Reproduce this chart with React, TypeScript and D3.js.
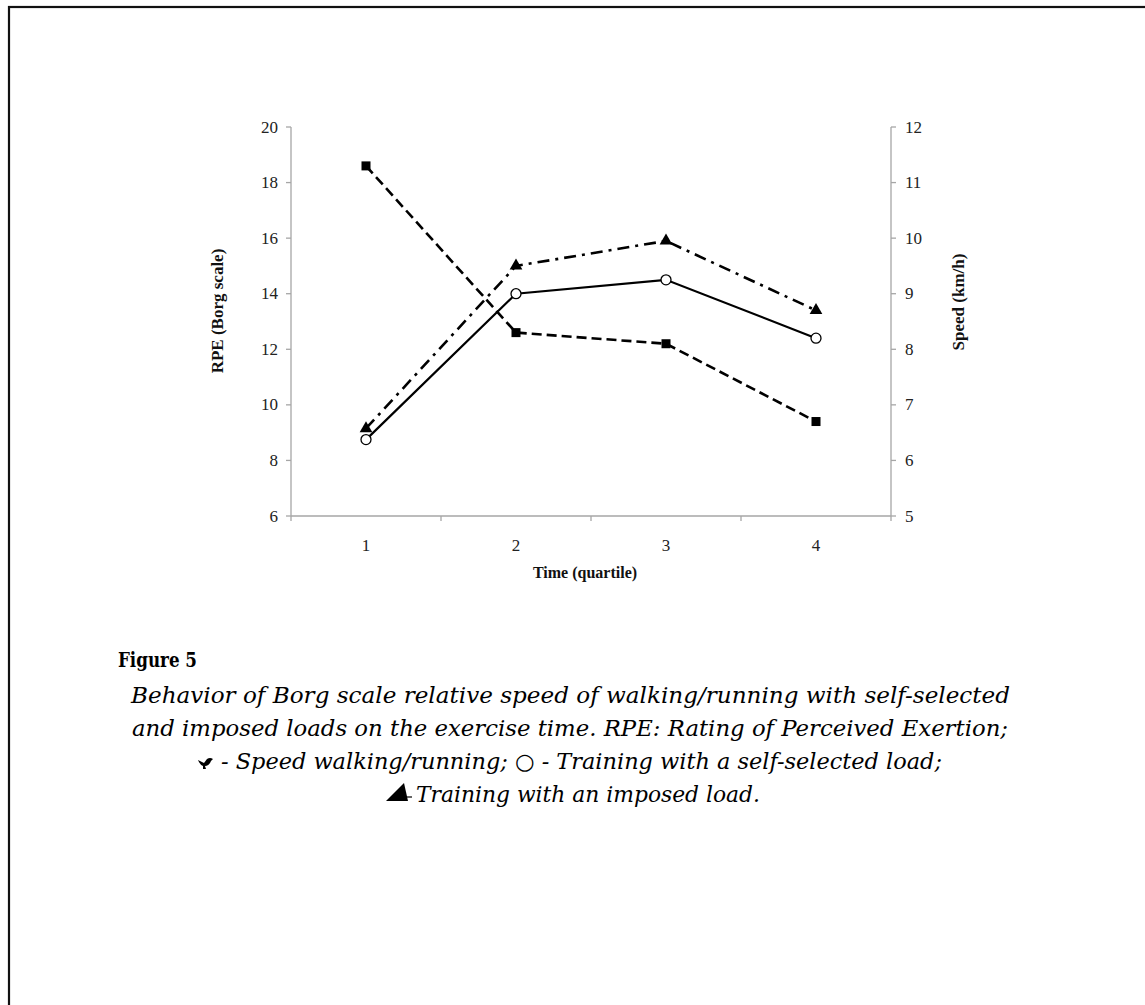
import React from "react";
import * as d3 from "d3";

const quartiles = ["1", "2", "3", "4"];
const speedKmh = [11.3, 8.3, 8.1, 6.7];
const rpeSelfSelected = [8.75, 14.0, 14.5, 12.4];
const rpeImposed = [9.15, 15.0, 15.9, 13.4];
const rpeTicks = [6, 8, 10, 12, 14, 16, 18, 20];
const speedTicks = [5, 6, 7, 8, 9, 10, 11, 12];

const captionTitle = "Figure 5";
const captionLines = [
  "Behavior of Borg scale relative speed of walking/running with self-selected",
  "and imposed loads on the exercise time. RPE: Rating of Perceived Exertion;",
  "- Speed walking/running; \u25CB - Training with a self-selected load;",
  "Training with an imposed load.",
];

const W = 1145;
const H = 1005;
const left = 291;
const right = 891;
const top = 127;
const bottom = 516;

const axisColor = "#a6a6a6";
const tickFont = "'Liberation Serif', 'Times New Roman', serif";
const capFont = "'DejaVu Serif', serif";

export default function App() {
  const x = d3.scaleBand<string>().domain(quartiles).range([left, right]);
  const cx = (c: string) => (x(c) as number) + x.bandwidth() / 2;
  const yL = d3.scaleLinear().domain([6, 20]).range([bottom, top]);
  const yR = d3.scaleLinear().domain([5, 12]).range([bottom, top]);

  const lineL = d3
    .line<number>()
    .x((_, i) => cx(quartiles[i]))
    .y((d) => yL(d));
  const lineR = d3
    .line<number>()
    .x((_, i) => cx(quartiles[i]))
    .y((d) => yR(d));

  const boundaries = [...quartiles.map((c) => x(c) as number), right];
  const tri = d3.symbol(d3.symbolTriangle, 70)();

  return (
    <svg
      width={W}
      height={H}
      style={{ position: "absolute", left: 0, top: 0, background: "#fff" }}
    >
      <rect x={9} y={7} width={1300} height={1200} fill="none" stroke="#111" strokeWidth={2.2} />

      {/* axes */}
      <g stroke={axisColor} strokeWidth={1.3} fill="none">
        <line x1={left} y1={top} x2={left} y2={bottom} />
        <line x1={right} y1={top} x2={right} y2={bottom} />
        <line x1={left} y1={bottom} x2={right} y2={bottom} />
        {rpeTicks.map((t) => (
          <line key={"lt" + t} x1={left - 5} x2={left} y1={yL(t)} y2={yL(t)} />
        ))}
        {speedTicks.map((t) => (
          <line key={"rt" + t} x1={right} x2={right + 5} y1={yR(t)} y2={yR(t)} />
        ))}
        {boundaries.map((b, i) => (
          <line key={"xt" + i} x1={b} x2={b} y1={bottom} y2={bottom + 5} />
        ))}
      </g>

      <g fontFamily={tickFont} fontSize={17} fill="#222">
        {rpeTicks.map((t) => (
          <text key={"ll" + t} x={left - 13} y={yL(t)} dy="0.33em" textAnchor="end">
            {t}
          </text>
        ))}
        {speedTicks.map((t) => (
          <text key={"rl" + t} x={right + 14} y={yR(t)} dy="0.33em" textAnchor="start">
            {t}
          </text>
        ))}
        {quartiles.map((c) => (
          <text key={"xl" + c} x={cx(c)} y={551} textAnchor="middle">
            {c}
          </text>
        ))}
      </g>

      <g fontFamily={tickFont} fontWeight="bold" fill="#111">
        <text x={585} y={578} fontSize={16} textAnchor="middle">Time (quartile)</text>
        <text transform={`translate(223,311) rotate(-90)`} fontSize={17} textAnchor="middle">
          RPE (Borg scale)
        </text>
        <text transform={`translate(964,302) rotate(-90)`} fontSize={17} textAnchor="middle">
          Speed (km/h)
        </text>
      </g>

      {/* series lines */}
      <path d={lineR(speedKmh) as string} fill="none" stroke="#000" strokeWidth={2.6} strokeDasharray="10 5" />
      <path d={lineL(rpeImposed) as string} fill="none" stroke="#000" strokeWidth={2.6} strokeDasharray="12 6 3 6" />
      <path d={lineL(rpeSelfSelected) as string} fill="none" stroke="#000" strokeWidth={2.2} />

      {/* markers */}
      {speedKmh.map((v, i) => (
        <rect key={"sq" + i} x={cx(quartiles[i]) - 4.5} y={yR(v) - 4.5} width={9} height={9} fill="#000" />
      ))}
      {rpeImposed.map((v, i) => (
        <path key={"tr" + i} d={tri as string} transform={`translate(${cx(quartiles[i])},${yL(v)})`} fill="#000" />
      ))}
      {rpeSelfSelected.map((v, i) => (
        <circle key={"ci" + i} cx={cx(quartiles[i])} cy={yL(v)} r={5} fill="#fff" stroke="#000" strokeWidth={1.3} />
      ))}

      {/* caption */}
      <text x={118} y={667} fontFamily={capFont} fontWeight="bold" fontSize={21} textLength={79} lengthAdjust="spacingAndGlyphs" fill="#000">
        {captionTitle}
      </text>
      <g fontFamily={capFont} fontStyle="italic" fontSize={22} fill="#000">
        <text x={131} y={703} textLength={879} lengthAdjust="spacingAndGlyphs">{captionLines[0]}</text>
        <text x={132} y={736} textLength={876} lengthAdjust="spacingAndGlyphs">{captionLines[1]}</text>
        <text x={221} y={769} textLength={721} lengthAdjust="spacingAndGlyphs">{captionLines[2]}</text>
        <text x={416} y={802} textLength={344} lengthAdjust="spacingAndGlyphs">{captionLines[3]}</text>
      </g>
      {/* bird-like glyph */}
      <path
        d="M198,760 L204,763 L207,759 Q210,757 213,759 L211,761 Q209,766 205,766 L206,769 L203,769 L203,766 Q200,765 198,760 Z"
        fill="#000"
      />
      {/* triangle glyph */}
      <path d="M386,801 L408,801 L404,783 Z" fill="#000" />
      <line x1={404} y1={797} x2={412} y2={797} stroke="#000" strokeWidth={1.2} />
    </svg>
  );
}
